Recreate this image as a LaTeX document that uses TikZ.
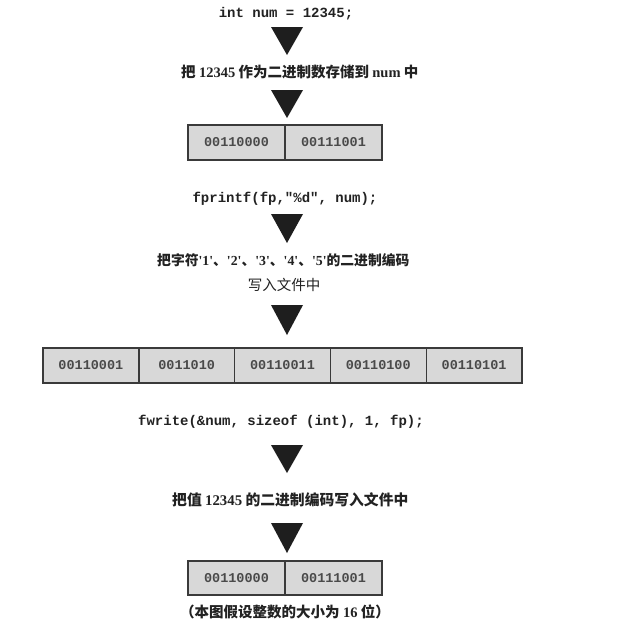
\documentclass[tikz,border=0pt]{standalone}
\usepackage{fontspec}
\setmainfont{Liberation Serif}
\setmonofont{Liberation Mono}
\newfontfamily\cjk{Noto Sans CJK SC}
\definecolor{cellfill}{HTML}{D8D8D8}
\definecolor{boxline}{HTML}{3A3A3A}
\definecolor{celltext}{HTML}{4A4A4A}
\definecolor{trifill}{HTML}{1E1E1E}
\definecolor{ink}{HTML}{222222}
\newcommand\lat[1]{{\rmfamily\bfseries #1}}
\newcommand\qd[1]{{\rmfamily\textquotesingle#1\textquotesingle}}
\begin{document}
\begin{tikzpicture}[x=1pt,y=-1pt,
  cell/.style={fill=cellfill, minimum height=35pt, outer sep=0pt,
    inner sep=0pt, anchor=west, text=celltext, font=\ttfamily\bfseries\fontsize{13.5}{15}\selectfont},
  frame/.style={draw=boxline, line width=1.4pt},
  code/.style={inner sep=0pt, text=ink, font=\ttfamily\bfseries\fontsize{14}{16}\selectfont},
  cn/.style={inner sep=0pt, text=ink, font=\cjk\bfseries\fontsize{14.5}{16}\selectfont},
  tri/.style={fill=trifill}]
\useasboundingbox (0,0) rectangle (622,635);
\fill[white] (0,0) rectangle (622,635);

% texts
\node[code] (t1) at (286,14) {int num = 12345;};
\node[cn, anchor=west] (t2) at (181,72) {把 \lat{12345} 作为二进制数存储到 \lat{num} 中};
\node[code] (t3) at (285,199) {fprintf(fp,"\%d", num);};
\node[cn, anchor=west, font=\cjk\bfseries\fontsize{13.8}{16}\selectfont] (t4) at (157,260) {把字符\qd{1}、\qd{2}、\qd{3}、\qd{4}、\qd{5}的二进制编码};
\node[cn, font=\cjk\fontsize{14.5}{16}\selectfont] (t5) at (284,285) {写入文件中};
\node[code] (t6) at (281,422) {fwrite(\&num, sizeof (int), 1, fp);};
\node[cn, anchor=west, font=\cjk\bfseries\fontsize{14.8}{16}\selectfont] (t7) at (172,500) {把值 \lat{12345} 的二进制编码写入文件中};
\node[cn] (t8) at (285,612) {（本图假设整数的大小为 \lat{16} 位）};

% triangles
\foreach \ta/\tb in {27/55, 90/118, 214/243, 305/335, 445/473, 523/553}
  \fill[tri] (271,\ta) -- (303,\ta) -- (287,\tb) -- cycle;

% box 1
\node[cell, minimum width=97pt] (b1a) at (188,142.5) {00110000};
\node[cell, minimum width=97pt] (b1b) at (b1a.east) {00111001};
\draw[frame] (b1a.north west) rectangle (b1b.south east);
\draw[frame] (b1a.north east) -- (b1a.south east);

% big box
\node[cell, minimum width=95.8pt] (c1) at (43,365.5) {00110001};
\node[cell, minimum width=95.8pt] (c2) at (c1.east) {0011010};
\node[cell, minimum width=95.8pt] (c3) at (c2.east) {00110011};
\node[cell, minimum width=95.8pt] (c4) at (c3.east) {00110100};
\node[cell, minimum width=95.8pt] (c5) at (c4.east) {00110101};
\draw[frame] (c1.north west) rectangle (c5.south east);
\foreach \c in {c1,c2,c3,c4}
  \draw[frame] (\c.north east) -- (\c.south east);

% box 3
\node[cell, minimum width=97pt, minimum height=34pt] (b3a) at (188,578) {00110000};
\node[cell, minimum width=97pt, minimum height=34pt] (b3b) at (b3a.east) {00111001};
\draw[frame] (b3a.north west) rectangle (b3b.south east);
\draw[frame] (b3a.north east) -- (b3a.south east);
\end{tikzpicture}
\end{document}
